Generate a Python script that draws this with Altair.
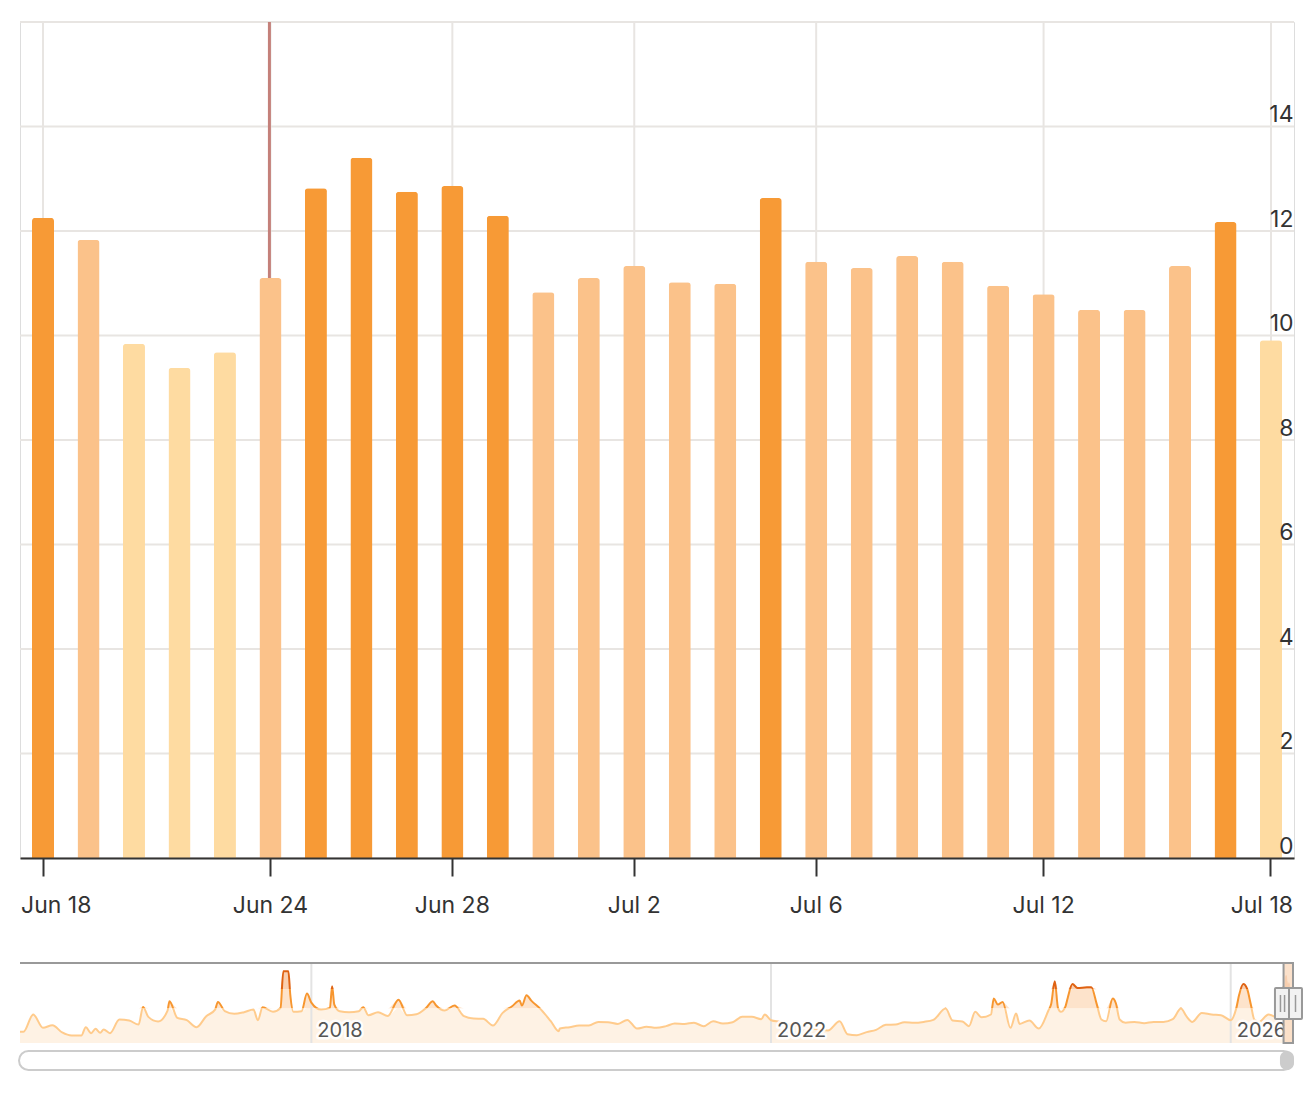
import altair as alt
import pandas as pd

# ---------------- data ----------------
bar_dates = [
    "2026-06-18", "2026-06-19", "2026-06-20", "2026-06-22", "2026-06-23", "2026-06-24",
    "2026-06-25", "2026-06-26", "2026-06-27", "2026-06-28", "2026-06-29", "2026-06-30",
    "2026-07-01", "2026-07-02", "2026-07-03", "2026-07-04", "2026-07-05", "2026-07-06",
    "2026-07-07", "2026-07-08", "2026-07-10", "2026-07-11", "2026-07-12", "2026-07-13",
    "2026-07-14", "2026-07-16", "2026-07-17", "2026-07-18",
]
bar_values = [
    12.25, 11.83, 9.84, 9.38, 9.68, 11.10,
    12.82, 13.40, 12.75, 12.86, 12.29, 10.83,
    11.10, 11.33, 11.02, 10.99, 12.63, 11.41,
    11.29, 11.52, 11.41, 10.95, 10.79, 10.49,
    10.49, 11.33, 12.17, 9.91,
]
axis_label_dates = ["Jun 18", "Jun 24", "Jun 28", "Jul 2", "Jul 6", "Jul 12", "Jul 18"]
y_ticks = [0, 2, 4, 6, 8, 10, 12, 14, 16]
event_label = "Jun 24"
zone_thresholds = [10, 12]

nav_dates = [
    "2015-06-20", "2015-07-01", "2015-08-01", "2015-09-01", "2015-10-01", "2015-11-01",
    "2015-12-01", "2016-01-01", "2016-01-15", "2016-02-01", "2016-02-15", "2016-03-01",
    "2016-03-12", "2016-04-01", "2016-05-01", "2016-06-01", "2016-07-01", "2016-07-15",
    "2016-08-01", "2016-09-01", "2016-10-01", "2016-10-07", "2016-11-01", "2016-12-01",
    "2017-01-01", "2017-02-01", "2017-03-01", "2017-03-10", "2017-04-01", "2017-05-01",
    "2017-06-01", "2017-07-01", "2017-07-15", "2017-07-30", "2017-09-01", "2017-09-25",
    "2017-10-04", "2017-10-20", "2017-10-26", "2017-11-05", "2017-12-01", "2017-12-18",
    "2018-01-01", "2018-02-01", "2018-03-01", "2018-03-08", "2018-03-15", "2018-04-01",
    "2018-05-01", "2018-06-01", "2018-06-15", "2018-07-01", "2018-08-01", "2018-09-01",
    "2018-10-05", "2018-11-01", "2018-12-01", "2019-01-01", "2019-01-22", "2019-02-01",
    "2019-03-01", "2019-04-01", "2019-05-01", "2019-06-01", "2019-07-01", "2019-08-01",
    "2019-09-01", "2019-10-01", "2019-10-25", "2019-11-01", "2019-11-16", "2019-12-01",
    "2020-01-01", "2020-02-01", "2020-02-26", "2020-03-01", "2020-04-01", "2020-05-01",
    "2020-06-01", "2020-07-01", "2020-08-01", "2020-09-01", "2020-10-01", "2020-11-01",
    "2020-12-01", "2021-01-01", "2021-02-01", "2021-03-01", "2021-04-01", "2021-05-01",
    "2021-06-01", "2021-07-01", "2021-08-01", "2021-09-01", "2021-10-01", "2021-11-01",
    "2021-12-01", "2021-12-12", "2022-01-01", "2022-02-01", "2022-03-01", "2022-04-01",
    "2022-05-01", "2022-06-01", "2022-07-01", "2022-08-07", "2022-09-01", "2022-10-01",
    "2022-11-01", "2022-12-01", "2023-01-01", "2023-02-01", "2023-03-01", "2023-04-01",
    "2023-05-01", "2023-06-01", "2023-07-10", "2023-08-01", "2023-09-01", "2023-09-22",
    "2023-10-12", "2023-11-01", "2023-12-01", "2023-12-10", "2023-12-23", "2024-01-07",
    "2024-02-01", "2024-02-19", "2024-03-01", "2024-04-01", "2024-05-01", "2024-06-01",
    "2024-06-09", "2024-06-21", "2024-07-01", "2024-07-10", "2024-07-25", "2024-08-01",
    "2024-08-16", "2024-09-01", "2024-10-01", "2024-10-15", "2024-11-01", "2024-11-16",
    "2024-12-01", "2024-12-22", "2025-01-01", "2025-01-13", "2025-02-01", "2025-03-01",
    "2025-04-01", "2025-05-01", "2025-06-01", "2025-07-01", "2025-07-27", "2025-08-13",
    "2025-09-01", "2025-10-01", "2025-11-01", "2025-12-01", "2026-01-01", "2026-01-19",
    "2026-01-28", "2026-02-10", "2026-02-22", "2026-03-06", "2026-03-17", "2026-04-01",
    "2026-05-01", "2026-06-01",
]
nav_values = [
    7.50, 7.50, 9.33, 7.92, 8.20, 7.43,
    7.11, 7.11, 7.99, 7.36, 7.82, 7.40,
    7.75, 7.36, 8.80, 8.69, 8.27, 10.13,
    9.08, 8.59, 9.75, 10.73, 8.97, 8.73,
    7.99, 9.15, 9.85, 10.66, 9.68, 9.40,
    9.57, 9.85, 8.73, 10.10, 9.61, 10.03,
    13.89, 13.89, 11.43, 9.61, 9.68, 11.54,
    10.59, 9.85, 10.03, 12.31, 10.38, 9.68,
    9.57, 9.68, 10.10, 9.25, 9.57, 9.18,
    10.90, 9.25, 9.36, 10.03, 10.73, 10.31,
    9.75, 10.27, 9.15, 8.90, 8.87, 8.17,
    9.50, 10.20, 10.80, 10.27, 11.36, 10.80,
    9.85, 8.62, 7.57, 7.85, 7.99, 8.17,
    8.17, 8.55, 8.52, 8.34, 8.76, 7.85,
    8.03, 7.92, 8.10, 8.38, 8.34, 8.45,
    8.10, 8.62, 8.38, 8.52, 9.08, 9.08,
    8.83, 9.33, 8.73, 8.55, 8.27, 8.10,
    7.92, 7.75, 7.64, 8.62, 7.25, 7.15,
    7.47, 7.71, 8.24, 8.27, 8.52, 8.45,
    8.55, 8.76, 9.96, 8.69, 8.59, 8.10,
    9.61, 9.04, 9.33, 11.01, 10.38, 10.66,
    7.92, 9.43, 8.34, 8.69, 7.85, 9.78,
    10.38, 12.83, 10.03, 9.61, 10.20, 11.08,
    12.55, 12.13, 12.20, 12.20, 10.45, 8.80,
    8.62, 11.01, 10.52, 8.80, 8.45, 8.55,
    8.41, 8.55, 8.55, 8.83, 9.96, 9.15,
    8.55, 9.50, 9.33, 9.26, 8.73, 10.03,
    11.43, 12.55, 12.06, 10.38, 8.80, 8.55,
    9.33, 8.97,
]
nav_y_domain = [6.32, 14.77]
year_dates = ["2018-01-01", "2022-01-01", "2026-01-01"]
year_labels = ["2018", "2022", "2026"]

# ---------------- style ----------------
FONT = "Inter"
GRID = "#E8E5E2"
TEXT = "#333333"
DARK, MID, LIGHT = "#F79A36", "#FBC28A", "#FEDBA1"
EVENT = "#C4807A"
FILL_LO, FILL_MID, FILL_HI = "#FEF2E4", "#FDE3CB", "#F9CFAF"
LINE_LO, LINE_MID, LINE_HI = "#FFCB8C", "#F7962F", "#DF6212"
MASK = "#FBDDC4"
W, H = 1274, 836
NAV_TOP, NAV_BOT = 941, 1021

# ---------------- main chart ----------------
bars_df = pd.DataFrame({"date": bar_dates, "value": bar_values})
bars_df["label"] = pd.to_datetime(bars_df["date"]).dt.strftime("%b %-d")
labels = bars_df["label"].tolist()

x_scale = alt.Scale(domain=labels, paddingInner=0.516, paddingOuter=0.264)
y_scale = alt.Scale(domain=[0, 16], nice=False, zero=True)
x_axis = alt.Axis(
    values=axis_label_dates, title=None, grid=False, bandPosition=0.5,
    domainColor=TEXT, domainWidth=2, tickColor=TEXT, tickWidth=2, tickSize=18,
    labelPadding=18, labelFlush=40, labelFlushOffset=22, labelFont=FONT,
    labelFontSize=23, labelColor=TEXT, labelAngle=0, labelOverlap=False, zindex=1,
)
y_axis = alt.Axis(
    orient="right", values=y_ticks, title=None, grid=False, domain=False, ticks=False,
    labelAlign="right", labelPadding=-1, labelBaseline="alphabetic", labelOffset=-5,
    labelExpr="datum.value >= 16 ? '' : datum.label", labelFont=FONT,
    labelFontSize=23, labelColor=TEXT, zindex=1,
)

ygrid = alt.Chart(pd.DataFrame({"tick": y_ticks})).mark_rule(color=GRID, strokeWidth=2).encode(
    y=alt.Y("tick:Q", scale=y_scale, axis=y_axis)
)
xgrid = alt.Chart(pd.DataFrame({"label": axis_label_dates})).mark_rule(color=GRID, strokeWidth=2).encode(
    x=alt.X("label:N", scale=x_scale, axis=x_axis)
)
event = alt.Chart(pd.DataFrame({"label": [event_label]})).mark_rule(
    color=EVENT, strokeWidth=3, xOffset=-1
).encode(x=alt.X("label:N", scale=x_scale, axis=x_axis))

bars = alt.Chart(bars_df).transform_calculate(
    level=f"datum.value >= {zone_thresholds[1]} ? 'high' : datum.value >= {zone_thresholds[0]} ? 'mid' : 'low'"
).mark_bar(cornerRadiusTopLeft=3, cornerRadiusTopRight=3).encode(
    x=alt.X("label:N", scale=x_scale, axis=x_axis),
    y=alt.Y("value:Q", scale=y_scale, axis=y_axis),
    color=alt.Color("level:N", scale=alt.Scale(domain=["high", "mid", "low"], range=[DARK, MID, LIGHT]), legend=None),
)
main = alt.layer(ygrid, xgrid, event, bars)

# ---------------- navigator ----------------
nav_df = pd.DataFrame({"date": nav_dates + bar_dates, "value": nav_values + bar_values})
t0 = pd.Timestamp(nav_dates[0])
t1 = pd.Timestamp(bar_dates[-1])
nx = alt.Scale(
    domain=[alt.DateTime(year=t0.year, month=t0.month, date=t0.day, utc=True),
            alt.DateTime(year=t1.year, month=t1.month, date=t1.day, utc=True)],
    range=[0, W - 1], nice=False,
)
ny = alt.Scale(domain=nav_y_domain, range=[NAV_BOT, NAV_TOP], nice=False, zero=False)
X = alt.X("date:T", scale=nx, axis=None)

lo_t, hi_t = zone_thresholds
nav_base = alt.Chart(nav_df).transform_calculate(
    lo=f"min(datum.value, {lo_t})",
    mid=f"clamp(datum.value, {lo_t}, {hi_t})",
    hi=f"max(datum.value, {hi_t})",
    base=f"{nav_y_domain[0]}",
    t10=f"{lo_t}",
    t12=f"{hi_t}",
)
area_lo = nav_base.mark_area(interpolate="monotone", color=FILL_LO).encode(
    x=X, y=alt.Y("lo:Q", scale=ny, axis=None), y2="base:Q")
area_mid = nav_base.mark_area(interpolate="monotone", color=FILL_MID).encode(
    x=X, y=alt.Y("mid:Q", scale=ny, axis=None), y2="t10:Q")
area_hi = nav_base.mark_area(interpolate="monotone", color=FILL_HI).encode(
    x=X, y=alt.Y("hi:Q", scale=ny, axis=None), y2="t12:Q")

all_vals = nav_values + bar_values
vmax, vmin = max(all_vals), min(all_vals)
o_hi = (vmax - hi_t) / (vmax - vmin)
o_lo = (vmax - lo_t) / (vmax - vmin)
grad = alt.Gradient(
    gradient="linear", x1=0, x2=0, y1=0, y2=1,
    stops=[
        alt.GradientStop(color=LINE_HI, offset=0),
        alt.GradientStop(color=LINE_HI, offset=o_hi),
        alt.GradientStop(color=LINE_MID, offset=o_hi),
        alt.GradientStop(color=LINE_MID, offset=o_lo),
        alt.GradientStop(color=LINE_LO, offset=o_lo),
        alt.GradientStop(color=LINE_LO, offset=1),
    ],
)
nav_line = nav_base.mark_line(interpolate="monotone", strokeWidth=2, stroke=grad).encode(
    x=X, y=alt.Y("value:Q", scale=ny, axis=None))

year_df = pd.DataFrame({"date": year_dates, "label": year_labels})
year_grid = alt.Chart(year_df).mark_rule(color="#E3E3E3", strokeWidth=2).encode(
    x=X, y=alt.value(NAV_TOP), y2=alt.value(NAV_BOT))
year_halo = alt.Chart(year_df).mark_text(
    align="left", dx=6, baseline="alphabetic", font=FONT, fontSize=20,
    fill="white", stroke="white", strokeWidth=5, strokeJoin="round", opacity=0.9,
).encode(x=X, y=alt.value(1015), text="label:N")
year_text = alt.Chart(year_df).mark_text(
    align="left", dx=6, baseline="alphabetic", font=FONT, fontSize=20, fill="#555555",
).encode(x=X, y=alt.value(1015), text="label:N")

span_df = pd.DataFrame({"a": [nav_dates[0]], "start": [bar_dates[0]], "end": [bar_dates[-1]]})
top_border = alt.Chart(span_df).mark_rule(color="#999999", strokeWidth=2).encode(
    x=alt.X("a:T", scale=nx, axis=None), x2="start:T", y=alt.value(NAV_TOP))
mask = alt.Chart(span_df).mark_rect(
    fill=MASK, fillOpacity=0.88, stroke="#999999", strokeWidth=2
).encode(x=alt.X("start:T", scale=nx, axis=None), x2="end:T", y=alt.value(NAV_TOP), y2=alt.value(NAV_BOT))

handle_style = dict(fill="#F2F2F2", stroke="#999999", strokeWidth=2, cornerRadius=1)
handle_l = alt.Chart(span_df).mark_rect(xOffset=-8.6, x2Offset=6.4, **handle_style).encode(
    x=alt.X("start:T", scale=nx, axis=None), x2="start:T", y=alt.value(966), y2=alt.value(997))
grip_l1 = alt.Chart(span_df).mark_rule(color="#999999", strokeWidth=1.5, xOffset=-3.1).encode(
    x=alt.X("start:T", scale=nx, axis=None), y=alt.value(973), y2=alt.value(990))
grip_l2 = alt.Chart(span_df).mark_rule(color="#999999", strokeWidth=1.5, xOffset=1.0).encode(
    x=alt.X("start:T", scale=nx, axis=None), y=alt.value(973), y2=alt.value(990))
handle_r = alt.Chart(span_df).mark_rect(xOffset=-4, x2Offset=9, **handle_style).encode(
    x=alt.X("end:T", scale=nx, axis=None), x2="end:T", y=alt.value(966), y2=alt.value(997))
grip_r = alt.Chart(span_df).mark_rule(color="#999999", strokeWidth=1.5, xOffset=2.5).encode(
    x=alt.X("end:T", scale=nx, axis=None), y=alt.value(973), y2=alt.value(990))

track = alt.Chart(span_df).mark_rect(
    fill="white", stroke="#CCCCCC", strokeWidth=2, cornerRadius=10, xOffset=-1
).encode(x=alt.X("a:T", scale=nx, axis=None), x2="end:T", y=alt.value(1029), y2=alt.value(1048))
thumb = alt.Chart(span_df).mark_rect(
    fill="#CCCCCC", cornerRadius=9, xOffset=-3.6, x2Offset=1
).encode(x=alt.X("start:T", scale=nx, axis=None), x2="end:T", y=alt.value(1029), y2=alt.value(1048))

nav = alt.layer(
    area_lo, area_mid, area_hi, year_grid, nav_line, year_halo, year_text,
    top_border, mask, handle_l, grip_l1, grip_l2, handle_r, grip_r, track, thumb,
)

chart = alt.layer(main, nav).resolve_scale(x="independent", y="independent").properties(
    width=W, height=H,
    padding={"left": 20, "top": 22, "right": 20, "bottom": 1100 - 22 - H},
    autosize=alt.AutoSizeParams(type="none"),
    background="white",
).configure_view(stroke="transparent").configure(font=FONT)

chart.save("out.html", embed_options={"renderer": "svg", "actions": False})
